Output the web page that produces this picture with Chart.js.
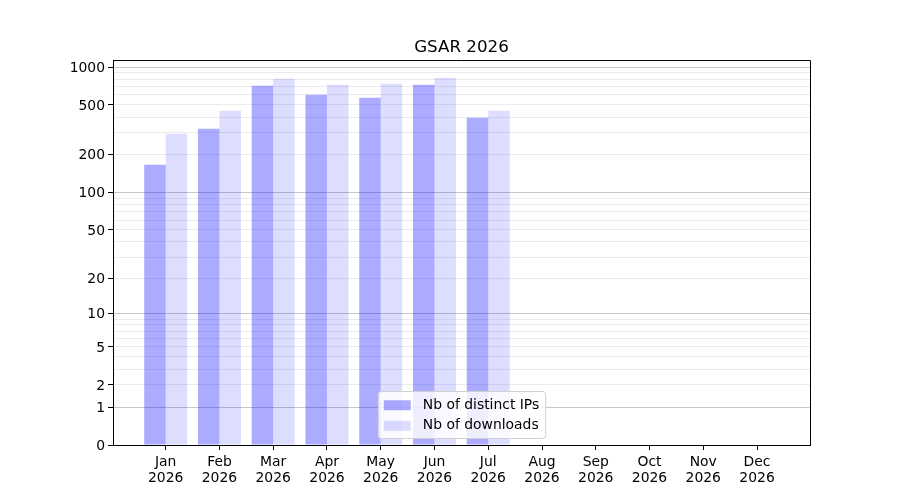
<!DOCTYPE html>
<html>
<head>
<meta charset="utf-8">
<script src="https://cdn.jsdelivr.net/npm/chart.js@4.4.1/dist/chart.umd.min.js"></script>
<style>
  html, body { margin: 0; padding: 0; background: #fff; }
  #wrap { width: 900px; height: 500px; }
</style>
</head>
<body>
<div id="wrap"><canvas id="gsarChart"></canvas></div>
<script>
// ---- data ----
const months = ["Jan", "Feb", "Mar", "Apr", "May", "Jun", "Jul", "Aug", "Sep", "Oct", "Nov", "Dec"];
const year = "2026";
const distinctIps = [167, 323, 709, 602, 570, 723, 395];
const downloads = [295, 449, 806, 723, 736, 822, 449];
const yTickLabels = [0, 1, 2, 5, 10, 20, 50, 100, 200, 500, 1000];
const yMajorGrid = [1, 10, 100, 1000];

// y axis is log10(1 + v)
const toY = v => Math.log10(1 + v);
const fromY = y => Math.round(Math.pow(10, y) - 1);

// every gridline: 0, 1..9, 10..90, 100..900, 1000
const yGridValues = [0];
[1, 10, 100].forEach(d => {
  for (let k = 1; k <= 9; k++) yGridValues.push(k * d);
});
yGridValues.push(1000);

const FONT = "'DejaVu Sans', sans-serif";
const blue = "rgba(0, 0, 255, 0.33)";
const lightBlue = "rgba(0, 0, 255, 0.133)";

// top + right spines
const framePlugin = {
  id: "frame",
  afterDraw(chart) {
    const { ctx, chartArea: a } = chart;
    ctx.save();
    ctx.strokeStyle = "#000";
    ctx.lineWidth = 1;
    ctx.beginPath();
    ctx.moveTo(a.left, a.top + 0.5);
    ctx.lineTo(a.right + 0.5, a.top + 0.5);
    ctx.lineTo(a.right + 0.5, a.bottom);
    ctx.stroke();
    ctx.restore();
  }
};

// legend box inside the plot, bottom centre
const innerLegend = {
  id: "innerLegend",
  afterDraw(chart) {
    const { ctx, chartArea: a } = chart;
    const sets = chart.data.datasets;
    ctx.save();
    ctx.font = "13.9px " + FONT;
    let textW = 0;
    sets.forEach(ds => { textW = Math.max(textW, ctx.measureText(ds.label).width); });
    const w = 45 + textW + 6;
    const rowH = 20.5;
    const h = 6 + rowH * sets.length;
    const x = (a.left + a.right) / 2 - w / 2;
    const y = a.bottom - 7 - h;

    ctx.fillStyle = "rgba(255,255,255,0.8)";
    ctx.strokeStyle = "#d0d0d0";
    ctx.lineWidth = 1;
    ctx.beginPath();
    if (ctx.roundRect) ctx.roundRect(x + 0.5, y + 0.5, w, h, 3);
    else ctx.rect(x + 0.5, y + 0.5, w, h);
    ctx.fill();
    ctx.stroke();

    ctx.textBaseline = "middle";
    ctx.textAlign = "left";
    sets.forEach((ds, i) => {
      const cy = y + 3 + rowH * i + rowH / 2 + 1;
      ctx.fillStyle = ds.backgroundColor;
      ctx.fillRect(x + 6, cy - 5, 27, 10);
      ctx.fillStyle = "#000";
      ctx.fillText(ds.label, x + 45, cy);
    });
    ctx.restore();
  }
};

new Chart(document.getElementById("gsarChart"), {
  type: "bar",
  data: {
    datasets: [
      {
        label: "Nb of distinct IPs",
        data: distinctIps.map((v, i) => ({ x: i, y: toY(v) })),
        backgroundColor: blue,
      },
      {
        label: "Nb of downloads",
        data: downloads.map((v, i) => ({ x: i, y: toY(v) })),
        backgroundColor: lightBlue,
      },
    ],
  },
  options: {
    responsive: true,
    maintainAspectRatio: false,
    animation: false,
    devicePixelRatio: 1,
    layout: { padding: { left: 0, right: 90, top: 0, bottom: 0 } },
    datasets: {
      bar: { categoryPercentage: 0.8, barPercentage: 1.0, borderWidth: 0 },
    },
    scales: {
      x: {
        type: "linear",
        min: -0.98,
        max: 11.985,
        offset: false,
        afterBuildTicks(scale) {
          scale.ticks = months.map((m, i) => ({ value: i }));
        },
        afterFit(scale) { scale.height = 55; },
        ticks: {
          autoSkip: false,
          maxRotation: 0,
          padding: 4,
          color: "#000",
          font: { family: FONT, size: 13.9, lineHeight: 1.15 },
          callback: value => [months[value], year],
        },
        grid: {
          offset: false,
          drawOnChartArea: false,
          tickLength: 5,
          tickColor: "#000",
        },
        border: { color: "#000", width: 1 },
      },
      y: {
        type: "linear",
        min: 0,
        max: 3.056,
        z: 1,
        afterBuildTicks(scale) {
          scale.ticks = yGridValues.map(v => ({ value: toY(v) }));
        },
        afterFit(scale) { scale.width = 113; },
        ticks: {
          autoSkip: false,
          padding: 3,
          labelOffset: 1,
          color: "#000",
          font: { family: FONT, size: 13.9 },
          callback: value => {
            const raw = fromY(value);
            return yTickLabels.includes(raw) ? String(raw) : "";
          },
        },
        grid: {
          tickLength: 5,
          color: ctx => {
            const raw = fromY(ctx.tick.value);
            if (raw === 0) return "rgba(0,0,0,0)";
            return yMajorGrid.includes(raw) ? "rgba(0,0,0,0.22)" : "rgba(0,0,0,0.08)";
          },
          tickColor: ctx => {
            const raw = fromY(ctx.tick.value);
            return yTickLabels.includes(raw) ? "#000" : "rgba(0,0,0,0)";
          },
        },
        border: { color: "#000", width: 1 },
      },
    },
    plugins: {
      legend: { display: false },
      tooltip: { enabled: false },
      title: {
        display: true,
        fullSize: false,
        text: "GSAR 2026",
        color: "#000",
        font: { family: FONT, size: 16.7, weight: "normal" },
        padding: { top: 38, bottom: 2 },
      },
    },
  },
  plugins: [framePlugin, innerLegend],
});
</script>
</body>
</html>
